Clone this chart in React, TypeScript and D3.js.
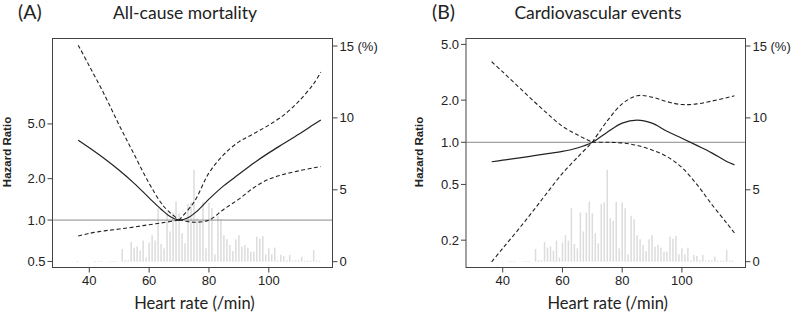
import React from 'react';
import * as d3 from 'd3';

// ---------------- data ----------------
const histHeartRate = [
  36, 37, 38, 39, 40, 41, 42, 43, 44, 45, 46, 47, 48, 49, 50, 51, 52, 53, 54, 55,
  56, 57, 58, 59, 60, 61, 62, 63, 64, 65, 66, 67, 68, 69, 70, 71, 72, 73, 74, 75,
  76, 77, 78, 79, 80, 81, 82, 83, 84, 85, 86, 87, 88, 89, 90, 91, 92, 93, 94, 95,
  96, 97, 98, 99, 100, 101, 102, 103, 104, 105, 106, 107, 108, 109, 110, 111, 112,
  113, 114, 115, 116, 117,
];
const histPercent = [
  0.05, 0, 0, 0, 0, 0, 0.05, 0.05, 0.05, 0, 0, 0.05, 0.05, 0.05, 0, 0.88, 0.1, 0.1, 1.37, 0.98,
  1.07, 0.77, 1.47, 0.28, 1.33, 1.84, 1.47, 3.72, 1.23, 0.93, 3.42, 2.1, 3.42, 4.19, 3.37, 1.98, 1.28, 4.02, 4.12, 6.4,
  3.02, 2.84, 4.16, 0.93, 4.12, 3.72, 0.5, 3.19, 2.95, 1.84, 1.56, 1.16, 0.74, 1.56, 1.86, 1.05, 1.16, 0.98, 0.7, 0.7,
  1.74, 1.6, 1.79, 0.51, 0.93, 0.51, 0.98, 0.1, 0.47, 0.4, 0.1, 0.47, 0.07, 0.1, 0.1, 0.35, 0.07,
  0.07, 0.07, 0.81, 0.07, 0.07,
];

// Panel A: all-cause mortality
const estHeartRateA = [36.3, 40, 45, 50, 55, 60, 64, 67, 70, 73, 76, 80, 85, 90, 95, 100, 105, 110, 115, 117.4];
const hrEstimateA = [3.8, 3.35, 2.8, 2.3, 1.85, 1.45, 1.2, 1.06, 1.0, 1.04, 1.16, 1.42, 1.78, 2.15, 2.6, 3.08, 3.6, 4.2, 4.95, 5.35];
const ciHeartRateA = [36.3, 40, 45, 50, 55, 60, 65, 70, 75, 80, 85, 90, 95, 100, 105, 110, 115, 117.4];
const hrUpperA = [18.7, 13.2, 8.2, 4.9, 3.0, 1.85, 1.25, 1.0, 1.35, 2.2, 3.0, 3.7, 4.25, 4.9, 5.8, 7.3, 9.8, 11.9];
const hrLowerA = [0.765, 0.8, 0.835, 0.86, 0.89, 0.925, 0.96, 1.0, 0.965, 1.0, 1.2, 1.42, 1.72, 1.98, 2.15, 2.28, 2.4, 2.45];

// Panel B: cardiovascular events
const estHeartRateB = [36.3, 40, 45, 50, 55, 60, 65, 70, 75, 80, 85, 90, 95, 100, 105, 110, 115, 117.6];
const hrEstimateB = [0.726, 0.745, 0.77, 0.8, 0.83, 0.86, 0.91, 1.0, 1.18, 1.37, 1.44, 1.37, 1.2, 1.07, 0.95, 0.84, 0.73, 0.69];
const ciHeartRateB = [36.3, 40, 45, 50, 55, 60, 65, 70, 75, 80, 85, 90, 95, 100, 105, 110, 115, 117.6];
const hrUpperB = [3.76, 3.18, 2.52, 2.0, 1.6, 1.3, 1.13, 1.0, 1.42, 1.88, 2.15, 2.1, 1.95, 1.86, 1.88, 1.97, 2.08, 2.15];
const hrLowerB = [0.14, 0.175, 0.235, 0.32, 0.44, 0.6, 0.78, 1.0, 1.0, 0.99, 0.95, 0.88, 0.79, 0.66, 0.5, 0.36, 0.265, 0.225];

const xTicks = [40, 60, 80, 100];
const leftTicksA = [0.5, 1.0, 2.0, 5.0];
const leftTicksB = [0.2, 0.5, 1.0, 2.0, 5.0];
const rightTicks = [0, 5, 10, 15];
const pivotHeartRate = 70;

// ---------------- drawing ----------------
const TICK_FONT = "'Liberation Sans', Arial, sans-serif";
const TITLE_FONT = "Lato, 'Open Sans', sans-serif";
const INK = '#222';

type PanelProps = {
  left: number; right: number; top: number; bottom: number;
  yDomain: [number, number];
  leftTicks: number[];
  letter: string; letterX: number;
  title: string; titleX: number;
  yLabelX: number;
  estHr: number[]; est: number[];
  ciHr: number[]; up: number[]; lo: number[];
};

function Panel(p: PanelProps) {
  const x = d3.scaleLinear().domain([27.7, 121.3]).range([p.left, p.right]);
  const y = d3.scaleLog().domain(p.yDomain).range([p.bottom, p.top]);
  const pct = d3.scaleLinear().domain([0, 15]).range([261.7, 46]);
  const line = d3.line<[number, number]>()
    .x(d => x(d[0]))
    .y(d => y(d[1]))
    .curve(d3.curveCatmullRom.alpha(0.5));
  const pts = (hr: number[], vals: number[]) => hr.map((h, i) => [h, vals[i]] as [number, number]);
  const split = (vals: number[]) => {
    const all = pts(p.ciHr, vals);
    return [all.filter(d => d[0] <= pivotHeartRate), all.filter(d => d[0] >= pivotHeartRate)];
  };
  const cx = (p.left + p.right) / 2;
  const fmt = d3.format('.1f');
  return (
    <g>
      {/* histogram */}
      {histHeartRate.map((h, i) => (
        histPercent[i] > 0 ? (
          <rect key={'h' + i} x={x(h) - 0.75} width={1.5}
            y={pct(histPercent[i])} height={pct(0) - pct(histPercent[i])}
            fill="#dcdcdc" />
        ) : null
      ))}
      {/* reference line */}
      <line x1={p.left} x2={p.right} y1={y(1)} y2={y(1)} stroke="#8a8a8a" strokeWidth={1} />
      {/* curves */}
      <path d={line(pts(p.estHr, p.est)) || ''} fill="none" stroke={INK} strokeWidth={1.2} />
      {[...split(p.up), ...split(p.lo)].map((seg, i) => (
        <path key={'c' + i} d={line(seg) || ''} fill="none" stroke={INK} strokeWidth={1.1}
          strokeDasharray="4,2.5" />
      ))}
      {/* frame */}
      <rect x={p.left} y={p.top} width={p.right - p.left} height={p.bottom - p.top}
        fill="none" stroke="#444" strokeWidth={1} />
      {/* left axis */}
      {p.leftTicks.map(t => (
        <g key={'l' + t}>
          <line x1={p.left - 5} x2={p.left} y1={y(t)} y2={y(t)} stroke="#444" />
          <text x={p.left - 7} y={y(t)} dy="0.35em" textAnchor="end" fontSize={13}
            fontFamily={TICK_FONT} fill={INK}>{fmt(t)}</text>
        </g>
      ))}
      {/* right axis */}
      {rightTicks.map(t => (
        <g key={'r' + t}>
          <line x1={p.right} x2={p.right + 5} y1={pct(t)} y2={pct(t)} stroke="#444" />
          <text x={p.right + 7} y={pct(t)} dy="0.35em" textAnchor="start" fontSize={13}
            fontFamily={TICK_FONT} fill={INK}>{t}</text>
        </g>
      ))}
      <text x={p.right + 25} y={pct(15)} dy="0.35em" fontSize={13} fontFamily={TICK_FONT} fill={INK}>(%)</text>
      {/* x axis */}
      {xTicks.map(t => (
        <g key={'x' + t}>
          <line x1={x(t)} x2={x(t)} y1={p.bottom} y2={p.bottom + 5} stroke="#444" />
          <text x={x(t)} y={p.bottom + 17} textAnchor="middle" fontSize={13}
            fontFamily={TICK_FONT} fill={INK}>{t}</text>
        </g>
      ))}
      <text x={cx + 2} y={309} textAnchor="middle" fontSize={16.5} fontFamily={TITLE_FONT} fill={INK}>
        Heart rate (/min)
      </text>
      <text transform={`translate(${p.yLabelX},152) rotate(-90)`} textAnchor="middle" fontSize={11.5}
        fontWeight="bold" fontFamily={TICK_FONT} fill={INK}>Hazard Ratio</text>
      <text x={p.letterX} y={19} fontSize={19.5} fontFamily={TITLE_FONT} fill={INK}>{p.letter}</text>
      <text x={p.titleX} y={19} textAnchor="middle" fontSize={17.5} fontFamily={TITLE_FONT} fill={INK}>{p.title}</text>
    </g>
  );
}

export default function App() {
  return (
    <div style={{ position: 'absolute', left: 0, top: 0, width: 792, height: 316, background: '#fff' }}>
      <svg width={792} height={316} viewBox="0 0 792 316">
        <rect width={792} height={316} fill="#fff" />
        <Panel left={52.5} right={332.5} top={38.5} bottom={267.5}
          yDomain={[0.452, 20.9]} leftTicks={leftTicksA}
          letter="(A)" letterX={18} title="All-cause mortality" titleX={185} yLabelX={10.5}
          estHr={estHeartRateA} est={hrEstimateA} ciHr={ciHeartRateA} up={hrUpperA} lo={hrLowerA} />
        <Panel left={466} right={745.5} top={38.5} bottom={267.5}
          yDomain={[0.1276, 5.51]} leftTicks={leftTicksB}
          letter="(B)" letterX={432} title="Cardiovascular events" titleX={598} yLabelX={423}
          estHr={estHeartRateB} est={hrEstimateB} ciHr={ciHeartRateB} up={hrUpperB} lo={hrLowerB} />
      </svg>
    </div>
  );
}
